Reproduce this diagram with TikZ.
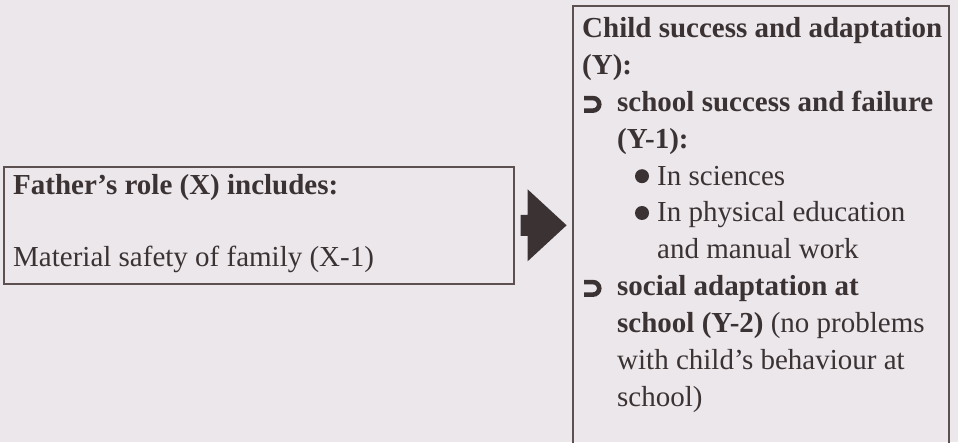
\documentclass[tikz,border=0pt]{standalone}
\usepackage{fontspec}
\setmainfont{Liberation Serif}
\definecolor{pagebg}{HTML}{EBE7EB}
\definecolor{inkc}{HTML}{3B3233}
\definecolor{framec}{HTML}{5C5050}
\tikzset{
  box/.style={draw=framec, line width=1.6pt, inner sep=0pt, anchor=north west},
  txtline/.style={anchor=base west, inner sep=0pt, text=inkc, font=\fontsize{29}{36.8}\selectfont},
  hookmark/.style={draw=inkc, line width=4.6pt},
  blockarrow/.style={fill=inkc},
}
\begin{document}
\begin{tikzpicture}[x=1pt,y=1pt]
    % Page
    \clip (0,0) rectangle (958,442);
    \fill[pagebg] (0,0) rectangle (958,442);

    % Boxes
    \node[box, minimum width=510pt, minimum height=117pt] (role) at (3,276) {};
    \node[box, minimum width=376pt, minimum height=480pt] (child) at (572,437) {};

    % Father's role text
    \node[txtline] (roletitle) at (13,247) {\textbf{Father’s role (X) includes:}};
    \node[txtline] (roleitem) at (13,175) {Material safety of family (X-1)};

    % Child text, one line at a time
    \foreach \dx/\txt [count=\i, evaluate=\i as \yb using 404-(\i-1)*36.8] in {
        582/{\textbf{Child success and adaptation}},
        582/{\textbf{(Y):}},
        617/{\textbf{school success and failure}},
        617/{\textbf{(Y-1):}},
        657/{In sciences},
        657/{In physical education},
        657/{and manual work},
        617/{\textbf{social adaptation at}},
        617/{\textbf{school (Y-2)} (no problems},
        617/{with child’s behaviour at},
        617/{school)}}
        \node[txtline] (ln\i) at (\dx,\yb) {\txt};

    % Hooks and bullets
    \foreach \n in {3,8}
        \draw[hookmark] ([xshift=-33pt]ln\n.base west) ++(0,13.5) -- ++(9,0) arc (90:-90:6.25) -- ++(-9,0);
    \foreach \n in {5,6}
        \fill[inkc] ([xshift=-15pt,yshift=9pt]ln\n.base west) circle (7);

    % Arrow
    \fill[blockarrow] ([xshift=6pt]role.east) ++(0,10.5) -- ++(7,0) -- ++(0,25.5)
        -- ++(39,-36) -- ++(-39,-36) -- ++(0,25.5) -- ++(-7,0) -- cycle;
\end{tikzpicture}
\end{document}
